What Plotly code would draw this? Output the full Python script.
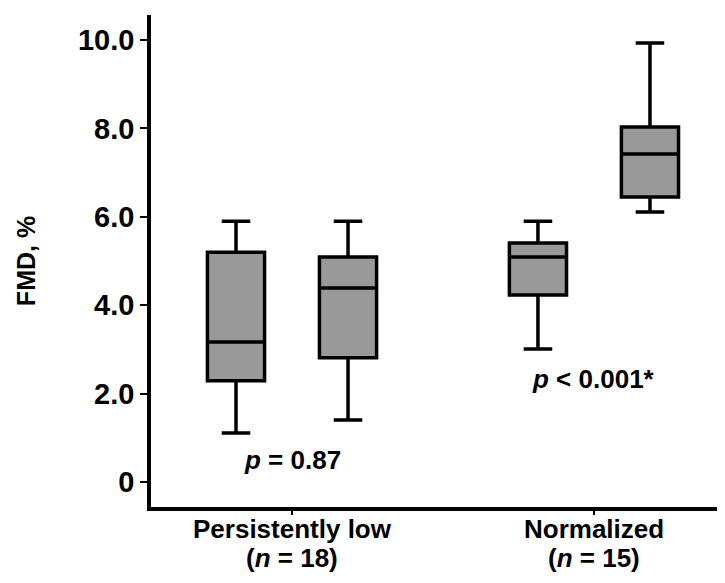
import plotly.graph_objects as go

categories = ["Persistently low", "Normalized"]
cat_line1 = ["Persistently low", "Normalized"]
cat_line2 = ["(<i>n</i> = 18)", "(<i>n</i> = 15)"]

# left box of each group
a_low = [1.11, 3.01]
a_q1 = [2.29, 4.23]
a_med = [3.17, 5.09]
a_q3 = [5.20, 5.41]
a_high = [5.90, 5.90]

# right box of each group
b_low = [1.40, 6.11]
b_q1 = [2.81, 6.45]
b_med = [4.39, 7.42]
b_q3 = [5.09, 8.03]
b_high = [5.90, 9.93]

y_ticks = [0, 2, 4, 6, 8, 10]
y_ticktext = ["0", "2.0", "4.0", "6.0", "8.0", "10.0"]

p_texts = ["<i>p</i> = 0.87", "<i>p</i> < 0.001*"]
p_y = [0.5, 2.33]

FONT = "Liberation Sans"

fig = go.Figure()
for name, lo, q1, med, q3, hi in [("A", a_low, a_q1, a_med, a_q3, a_high),
                                  ("B", b_low, b_q1, b_med, b_q3, b_high)]:
    fig.add_trace(go.Box(
        x=categories, q1=q1, median=med, q3=q3,
        lowerfence=lo, upperfence=hi, name=name,
        fillcolor="#999999", line=dict(color="black", width=3.5),
        whiskerwidth=0.5, boxpoints=False, showlegend=False,
    ))

fig.update_layout(
    boxmode="group", boxgap=0.258, boxgroupgap=0.49,
    width=725, height=583,
    margin=dict(l=143, r=8, t=7, b=84),
    plot_bgcolor="white", paper_bgcolor="white",
    font=dict(family=FONT, color="black"),
)
fig.update_xaxes(
    type="category", range=[-0.467, 1.434],
    tickvals=categories, showticklabels=False,
    showline=True, linecolor="black", linewidth=3.5,
    ticks="outside", ticklen=4, tickwidth=1.5, tickcolor="black",
    showgrid=False, zeroline=False,
)
fig.update_yaxes(
    range=[-0.566, 10.566],
    tickvals=y_ticks, ticktext=y_ticktext,
    showline=True, linecolor="black", linewidth=3.5,
    ticks="outside", ticklen=7, tickwidth=2, tickcolor="black",
    tickfont=dict(size=29, family=FONT, weight="bold"),
    title=dict(text="FMD, %", font=dict(size=25, family=FONT, weight="bold"), standoff=36),
    showgrid=False, zeroline=False,
)
for i, (t, y) in enumerate(zip(p_texts, p_y)):
    fig.add_annotation(x=i, y=y, text=t, showarrow=False,
                       font=dict(size=26, family=FONT, weight="bold", color="black"))
for i in range(len(categories)):
    for t, shift in ((cat_line1[i], -5), (cat_line2[i], -34)):
        fig.add_annotation(x=i, y=0, yref="paper", yanchor="top", yshift=shift,
                           text=t, showarrow=False,
                           font=dict(size=26, family=FONT, weight="bold", color="black"))

fig.write_html("out.html")
